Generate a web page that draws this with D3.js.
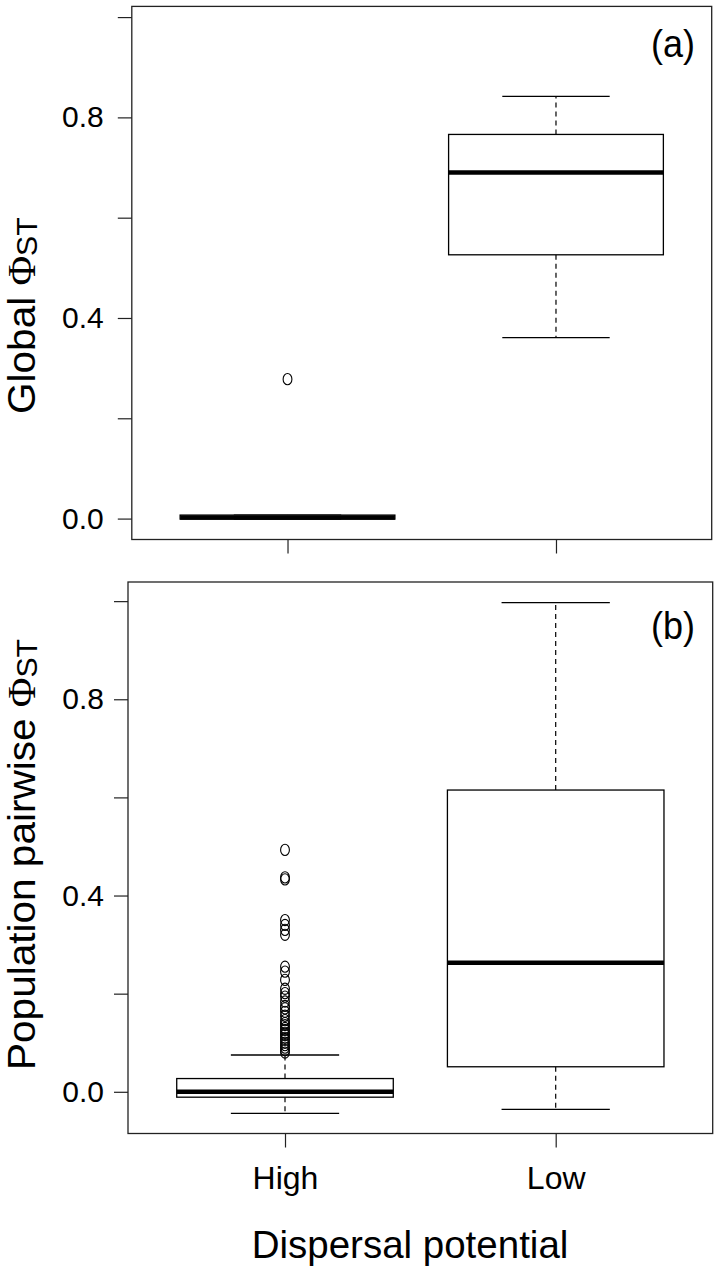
<!DOCTYPE html>
<html><head><meta charset="utf-8">
<script src="https://cdn.jsdelivr.net/npm/d3@7"></script>
<style>
body{margin:0;background:#fff}
svg{display:block}
text{font-family:"Liberation Sans",Arial,Helvetica,sans-serif;fill:#000}
</style>
</head><body>
<svg id="c" width="720" height="1274"></svg>
<script>
// ---------- data ----------
const categories = ["High", "Low"];
// five-number summaries: [lower whisker, Q1, median, Q3, upper whisker]
const globalHigh = [-0.001, -0.001, 0.002, 0.007, 0.007];
const globalLow  = [0.361, 0.526, 0.690, 0.766, 0.842];
const globalHighOutliers = [0.278];
const globalLowOutliers  = [];
const pairHigh = [-0.044, -0.011, 0.000, 0.027, 0.075];
const pairLow  = [-0.036, 0.051, 0.263, 0.615, 0.997];
const pairHighOutliers = [0.493, 0.437, 0.433, 0.350, 0.340, 0.330, 0.320,
  0.255, 0.245, 0.228, 0.210, 0.201, 0.194, 0.184, 0.175, 0.170, 0.163, 0.155,
  0.146, 0.140, 0.136, 0.130, 0.126, 0.120, 0.116, 0.110, 0.106, 0.100, 0.095,
  0.090, 0.085, 0.080];
const pairLowOutliers = [];
const yTickValues = [0, 0.2, 0.4, 0.6, 0.8, 1.0];
const yTickLabels = ["0.0", "", "0.4", "", "0.8", ""];
const panelTags = ["(a)", "(b)"];
const yTitles = ["Global ", "Population pairwise "];
const xTitle = "Dispersal potential";

// ---------- layout ----------
const svg = d3.select("#c");
const panels = [
  { stats: [globalHigh, globalLow], outs: [globalHighOutliers, globalLowOutliers],
    xr: [131.8, 711.7], yd: [-0.0417, 1.0213], yr: [539.5, 6.4], showX: false,
    tag: panelTags[0], tagY: 57, title: yTitles[0], titleStart: 414, tickPad: 14 },
  { stats: [pairHigh, pairLow], outs: [pairHighOutliers, pairLowOutliers],
    xr: [128.0, 712.7], yd: [-0.085, 1.039], yr: [1133.5, 582.0], showX: true,
    tag: panelTags[1], tagY: 639, title: yTitles[1], titleStart: 1070, tickPad: 10 }
];
const ink = "#000";

panels.forEach(p => {
  const g = svg.append("g");
  const x = d3.scaleLinear().domain([0.42, 2.58]).range(p.xr);
  const y = d3.scaleLinear().domain(p.yd).range(p.yr);

  categories.forEach((c, i) => {
    const s = p.stats[i];
    const pos = i + 1;
    const bg = g.append("g");
    // whiskers (dashed)
    bg.append("line").attr("x1", x(pos)).attr("x2", x(pos))
      .attr("y1", y(s[3])).attr("y2", y(s[4]))
      .attr("stroke", ink).attr("stroke-width", 1.2).attr("stroke-dasharray", "5,4");
    bg.append("line").attr("x1", x(pos)).attr("x2", x(pos))
      .attr("y1", y(s[1])).attr("y2", y(s[0]))
      .attr("stroke", ink).attr("stroke-width", 1.2).attr("stroke-dasharray", "5,4");
    // staples
    [s[0], s[4]].forEach(v => {
      bg.append("line").attr("x1", x(pos - 0.2)).attr("x2", x(pos + 0.2))
        .attr("y1", y(v)).attr("y2", y(v))
        .attr("stroke", ink).attr("stroke-width", 1.3);
    });
    // box
    bg.append("rect").attr("x", x(pos - 0.4)).attr("width", x(pos + 0.4) - x(pos - 0.4))
      .attr("y", y(s[3])).attr("height", Math.max(0.01, y(s[1]) - y(s[3])))
      .attr("fill", "#fff").attr("stroke", ink).attr("stroke-width", 1.3);
    // median
    bg.append("line").attr("x1", x(pos - 0.4)).attr("x2", x(pos + 0.4))
      .attr("y1", y(s[2])).attr("y2", y(s[2]))
      .attr("stroke", ink).attr("stroke-width", 4.5);
    // outliers
    bg.selectAll("ellipse.o").data(p.outs[i]).enter().append("ellipse")
      .attr("class", "o")
      .attr("cx", x(pos)).attr("cy", d => y(d))
      .attr("rx", 4.4).attr("ry", 5.6)
      .attr("fill", "none").attr("stroke", ink).attr("stroke-width", 1.1);
  });

  // frame
  g.append("rect").attr("x", p.xr[0]).attr("y", p.yr[1])
    .attr("width", p.xr[1] - p.xr[0]).attr("height", p.yr[0] - p.yr[1])
    .attr("fill", "none").attr("stroke", "#222").attr("stroke-width", 1.3);

  // y axis
  const ya = g.append("g").attr("transform", `translate(${p.xr[0]},0)`)
    .call(d3.axisLeft(y).tickValues(yTickValues).tickSize(14).tickPadding(p.tickPad)
      .tickFormat((d, k) => yTickLabels[k]));
  ya.select(".domain").remove();
  ya.selectAll(".tick line").attr("stroke", "#222").attr("stroke-width", 1.2);
  ya.selectAll(".tick text").attr("font-size", 30).attr("fill", ink)
    .attr("font-family", "Liberation Sans, Arial, sans-serif");

  // x axis
  const xa = g.append("g").attr("transform", `translate(0,${p.yr[0]})`)
    .call(d3.axisBottom(x).tickValues([1, 2]).tickSize(14).tickPadding(19)
      .tickFormat((d) => p.showX ? categories[d - 1] : ""));
  xa.select(".domain").remove();
  xa.selectAll(".tick line").attr("stroke", "#222").attr("stroke-width", 1.2);
  xa.selectAll(".tick text").attr("font-size", 32).attr("fill", ink)
    .attr("font-family", "Liberation Sans, Arial, sans-serif");

  // panel tag
  g.append("text").attr("x", 695).attr("y", 0)
    .attr("transform", `translate(0,${p.tagY}) scale(1,1.08)`)
    .attr("text-anchor", "end").attr("font-size", 36).text(p.tag);

  // y title (reads bottom to top, starting at titleStart)
  const t = g.append("text").attr("text-anchor", "start").attr("font-size", 39)
    .attr("transform", `translate(35,${p.titleStart}) scale(1,1.04) rotate(-90)`);
  t.append("tspan").text(p.title);
  t.append("tspan").attr("font-family", "Liberation Serif, Times New Roman, serif").text("Φ");
  t.append("tspan").attr("font-size", 29).attr("dy", 2).text("ST");
});

// x title
svg.append("text").attr("x", 410).attr("y", 1258).attr("text-anchor", "middle")
  .attr("font-size", 38.5).text(xTitle);
</script>
</body></html>
